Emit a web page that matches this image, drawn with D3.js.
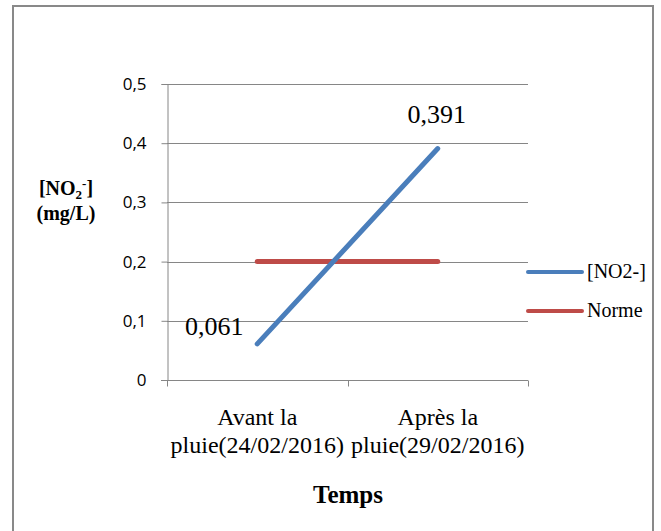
<!DOCTYPE html>
<html lang="en">
<head>
  <meta charset="UTF-8">
  <title>NO2 avant / après la pluie</title>
  <style>
    body { margin: 0; background: #fff; }
    svg { display: block; }
  </style>
</head>
<body>
  <svg id="chart" width="661" height="531"></svg>

  <script src="https://cdn.jsdelivr.net/npm/d3@7"></script>
  <script>
    // values
    const categories = ["Avant la pluie(24/02/2016)", "Après la pluie(29/02/2016)"];
    const categoryLines = [["Avant la", "pluie(24/02/2016)"], ["Après la", "pluie(29/02/2016)"]];
    const no2Values = [0.061, 0.391];
    const normeValues = [0.2, 0.2];
    const yTicks = [0, 0.1, 0.2, 0.3, 0.4, 0.5];
    const seriesNames = ["[NO2-]", "Norme"];
    const seriesColors = ["#4a7ebb", "#be4b48"];

    const svg = d3.select("#chart");
    const serif = "'Liberation Serif', 'Times New Roman', serif";
    const sans = "'Open Sans', 'Liberation Sans', Arial, sans-serif";

    // outer frame (bottom edge is off the picture)
    svg.append("path")
      .attr("fill", "none")
      .attr("stroke", "#898989")
      .attr("stroke-width", 2)
      .attr("d", "M13,535 L13,6 L653,6 L653,535");

    const plot = { left: 167, right: 528, top: 84, bottom: 380 };

    const x = d3.scaleBand()
      .domain(categories)
      .range([plot.left, plot.right]);

    const y = d3.scaleLinear()
      .domain([0, 0.5])
      .range([plot.bottom, plot.top]);

    // grid lines
    svg.append("g")
      .selectAll("line")
      .data(yTicks.filter(d => d > 0))
      .join("line")
      .attr("x1", plot.left)
      .attr("x2", plot.right)
      .attr("y1", d => Math.round(y(d)) + 0.5)
      .attr("y2", d => Math.round(y(d)) + 0.5)
      .attr("stroke", "#868686")
      .attr("stroke-width", 1);

    // y axis
    const yAxis = svg.append("g")
      .attr("transform", `translate(${plot.left + 0.5},0)`)
      .call(d3.axisLeft(y).tickValues(yTicks).tickSize(6).tickPadding(15)
        .tickFormat(d => d3.format(".1~f")(d).replace(".", ",")));
    yAxis.select(".domain").attr("stroke", "#868686");
    yAxis.selectAll(".tick line").attr("stroke", "#868686");
    yAxis.selectAll("text")
      .attr("font-family", sans)
      .attr("font-size", 17)
      .attr("fill", "#000");

    // x axis
    const xAxis = svg.append("g")
      .attr("transform", `translate(0,${plot.bottom + 0.5})`)
      .call(d3.axisBottom(x).tickSize(0).tickFormat(""));
    xAxis.select(".domain").attr("stroke", "#868686").attr("d", `M${plot.left - 6},0H${plot.right}`);
    xAxis.selectAll(".tick").remove();
    const xTickPos = [plot.left, ...categories.map(c => x(c) + x.bandwidth())];
    xAxis.selectAll(".xt")
      .data(xTickPos)
      .join("line")
      .attr("class", "xt")
      .attr("x1", d => Math.round(d) + 0.5)
      .attr("x2", d => Math.round(d) + 0.5)
      .attr("y1", 0)
      .attr("y2", 6)
      .attr("stroke", "#868686");

    // category labels on two lines
    const catText = svg.append("g")
      .selectAll("text")
      .data(categories)
      .join("text")
      .attr("text-anchor", "middle")
      .attr("font-family", serif)
      .attr("font-size", 24)
      .attr("fill", "#000");
    catText.selectAll("tspan")
      .data((d, i) => categoryLines[i].map(line => ({ line, cx: x(d) + x.bandwidth() / 2 })))
      .join("tspan")
      .attr("x", d => d.cx)
      .attr("y", (d, i) => 425 + i * 28)
      .text(d => d.line);

    // lines
    const lineGen = d3.line()
      .x((d, i) => x(categories[i]) + x.bandwidth() / 2)
      .y(d => y(d));

    [normeValues, no2Values].forEach((vals, k) => {
      const idx = k === 0 ? 1 : 0;
      svg.append("path")
        .datum(vals)
        .attr("fill", "none")
        .attr("stroke", seriesColors[idx])
        .attr("stroke-width", 5)
        .attr("stroke-linecap", "round")
        .attr("d", lineGen);
    });

    // data labels for [NO2-]
    svg.append("g")
      .selectAll("text")
      .data(no2Values)
      .join("text")
      .attr("x", (d, i) => x(categories[i]) + x.bandwidth() / 2 + (i === 0 ? -43 : -1))
      .attr("y", (d, i) => y(d) + (i === 0 ? -9 : -26))
      .attr("text-anchor", "middle")
      .attr("font-family", serif)
      .attr("font-size", 26)
      .attr("fill", "#000")
      .text(d => String(d).replace(".", ","));

    // legend
    const legend = svg.append("g")
      .selectAll("g")
      .data(seriesNames)
      .join("g")
      .attr("transform", (d, i) => `translate(528,${272 + i * 39})`);
    legend.append("line")
      .attr("x1", 0)
      .attr("x2", 54)
      .attr("stroke", (d, i) => seriesColors[i])
      .attr("stroke-width", 4)
      .attr("stroke-linecap", "round");
    legend.append("text")
      .attr("x", 59)
      .attr("y", 6)
      .attr("font-family", serif)
      .attr("font-size", 20)
      .attr("fill", "#000")
      .text(d => d);

    // y axis title
    const yTitle = svg.append("text")
      .attr("text-anchor", "middle")
      .attr("font-family", serif)
      .attr("font-weight", "bold")
      .attr("font-size", 20)
      .attr("fill", "#000");
    const t1 = yTitle.append("tspan").attr("x", 66).attr("y", 195);
    t1.append("tspan").text("[NO");
    t1.append("tspan").attr("font-size", 13).attr("dy", 4).text("2");
    t1.append("tspan").attr("font-size", 13).attr("dy", -11).text("-");
    t1.append("tspan").attr("dy", 7).text("]");
    yTitle.append("tspan").attr("x", 66).attr("y", 220).text("(mg/L)");

    // x axis title
    svg.append("text")
      .attr("x", 348)
      .attr("y", 503)
      .attr("text-anchor", "middle")
      .attr("font-family", serif)
      .attr("font-weight", "bold")
      .attr("font-size", 25)
      .attr("fill", "#000")
      .text("Temps");
  </script>
</body>
</html>
